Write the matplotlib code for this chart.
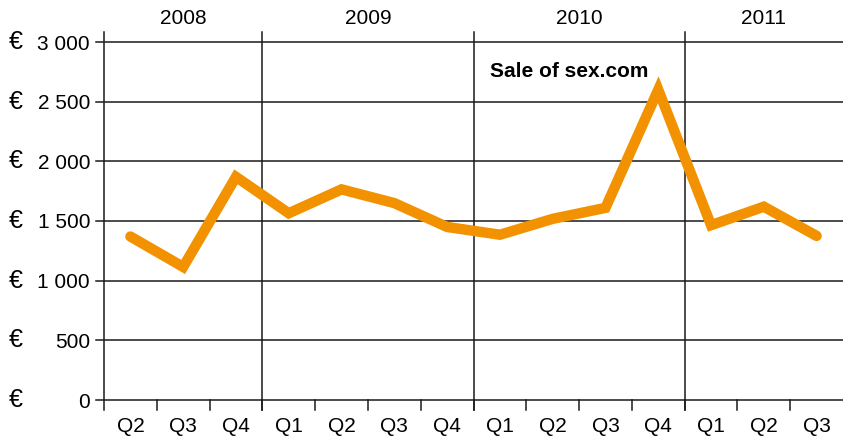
import matplotlib.pyplot as plt
import numpy as np

# Data
years = ['2008', '2009', '2010', '2011']
year_quarters = [3, 4, 4, 3]
quarters = ['Q2', 'Q3', 'Q4', 'Q1', 'Q2', 'Q3', 'Q4', 'Q1', 'Q2', 'Q3', 'Q4', 'Q1', 'Q2', 'Q3']
values = [1370, 1115, 1870, 1565, 1765, 1650, 1450, 1385, 1518, 1610, 2600, 1465, 1620, 1375]
y_ticks = [0, 500, 1000, 1500, 2000, 2500, 3000]
note_text = 'Sale of sex.com'

plt.rcParams['font.family'] = ['Liberation Sans', 'DejaVu Sans']
line_col = '#1a1a1a'
orange = '#F39200'
fs = 15

fig = plt.figure(figsize=(8.43, 4.38), dpi=100)
ax = fig.add_axes([104 / 843, 38 / 438, 1 - 104 / 843, 358 / 438])

n = len(quarters)
ax.set_xlim(0, n)
ax.set_ylim(0, 3000)
for s in ax.spines.values():
    s.set_visible(False)

# horizontal grid lines incl. little tick on the left
for v in y_ticks:
    ax.plot([-0.15, n], [v, v], color=line_col, lw=1.1, clip_on=False, zorder=1)

# left axis line and year separators, a bit longer than the plot
bt = ax.get_xaxis_transform()
bounds = np.cumsum([0] + year_quarters)
for b in bounds[:-1]:
    ax.plot([b, b], [-0.028, 1.028], color=line_col, lw=1.1, transform=bt, clip_on=False, zorder=1)

# quarter tick marks
for q in range(1, n):
    ax.plot([q, q], [-0.028, 0], color=line_col, lw=1.1, transform=bt, clip_on=False, zorder=1)

# y labels with euro sign on the far left
ax.set_yticks(y_ticks)
ax.set_yticklabels(['{:,}'.format(v).replace(',', ' ') for v in y_ticks], fontsize=fs)
ax.tick_params(axis='y', length=0, pad=10)
for v in y_ticks:
    ax.text(-95 / 52.8, v, '€', fontsize=18, ha='left', va='center', clip_on=False)

# quarter labels
x = np.arange(n) + 0.5
ax.set_xticks(x)
ax.set_xticklabels(quarters, fontsize=fs)
ax.tick_params(axis='x', length=0, pad=12)

# year labels on top
for i, yr in enumerate(years):
    ax.text((bounds[i] + bounds[i + 1]) / 2, 1.04, yr, fontsize=fs, ha='center', va='bottom', transform=bt)

ax.plot(x, values, color=orange, lw=7.5, solid_capstyle='round', solid_joinstyle='miter', zorder=3)

ax.text(7.31, 2750, note_text, fontsize=fs, fontweight='bold', ha='left', va='center')

fig.savefig('out.png', dpi=100)
